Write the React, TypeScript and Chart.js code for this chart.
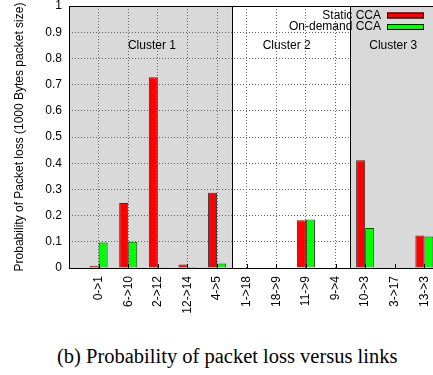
import React, { useEffect, useRef } from "react";
import { Chart, registerables } from "chart.js";

Chart.register(...registerables);

// ---- data ----
const links = ["0->1", "6->10", "2->12", "12->14", "4->5", "1->18", "18->9", "11->9", "9->4", "10->3", "3->17", "13->3"];
const staticCCA = [0.009, 0.248, 0.728, 0.013, 0.287, 0, 0, 0.182, 0, 0.411, 0, 0.124];
const onDemandCCA = [0.097, 0.1, 0.003, 0.004, 0.017, 0, 0, 0.185, 0, 0.153, 0, 0.12];
const yTicks = [0, 0.1, 0.2, 0.3, 0.4, 0.5, 0.6, 0.7, 0.8, 0.9, 1];
const seriesNames = ["Static CCA", "On-demand CCA"];
const clusterNames = ["Cluster 1", "Cluster 2", "Cluster 3"];
const clusterBounds = [-1, 4.5, 8.5, 12];
const clusterShaded = [true, false, true];
const clusterLabelX = [1.8, 6.35, 9.95];
const clusterLabelY = 0.85;
const xMin = -1;
const xMax = 12;

const FONT = "'Liberation Sans', Arial, Helvetica, sans-serif";
const GRAY = "#d9d9d9";
const RED = "#ff0000";
const GREEN = "#00ff00";

const decor = {
  id: "decor",
  beforeDraw(chart: any) {
    const { ctx, chartArea, scales } = chart;
    const x = scales.x;
    ctx.save();
    ctx.fillStyle = "#ffffff";
    ctx.fillRect(0, 0, chart.width, chart.height);
    ctx.fillStyle = GRAY;
    const x0 = x.getPixelForValue(clusterBounds[0]);
    const x1 = x.getPixelForValue(clusterBounds[1]);
    if (clusterShaded[0]) ctx.fillRect(x0, chartArea.top, x1 - x0, chartArea.bottom - chartArea.top);
    ctx.restore();
  },
  beforeDatasetsDraw(chart: any) {
    const { ctx, chartArea, scales } = chart;
    const x = scales.x;
    ctx.save();
    ctx.fillStyle = GRAY;
    for (let i = 1; i < clusterNames.length; i++) {
      if (!clusterShaded[i]) continue;
      const a = x.getPixelForValue(clusterBounds[i]);
      const b = x.getPixelForValue(clusterBounds[i + 1]);
      ctx.fillRect(a, chartArea.top, b - a, chartArea.bottom - chartArea.top);
    }
    ctx.restore();
  },
  afterDatasetsDraw(chart: any) {
    const { ctx, chartArea, scales } = chart;
    const x = scales.x;
    const y = scales.y;
    const { left, right, top, bottom } = chartArea;
    ctx.save();
    ctx.strokeStyle = "#000";
    ctx.lineWidth = 1;
    ctx.beginPath();
    ctx.moveTo(Math.round(left) + 0.5, bottom);
    ctx.lineTo(Math.round(left) + 0.5, Math.round(top) + 0.5);
    ctx.lineTo(right, Math.round(top) + 0.5);
    ctx.moveTo(left, Math.round(bottom) + 0.5);
    ctx.lineTo(right, Math.round(bottom) + 0.5);
    for (let i = 1; i < clusterBounds.length - 1; i++) {
      const px = Math.round(x.getPixelForValue(clusterBounds[i])) + 0.5;
      ctx.moveTo(px, top);
      ctx.lineTo(px, bottom);
    }
    for (let i = 0; i < links.length; i++) {
      const px = Math.round(x.getPixelForValue(i)) + 0.5;
      ctx.moveTo(px, bottom);
      ctx.lineTo(px, bottom - 4);
    }
    ctx.stroke();

    ctx.fillStyle = "#000";
    ctx.font = `12px ${FONT}`;
    ctx.textAlign = "center";
    ctx.textBaseline = "middle";
    clusterNames.forEach((n, i) => {
      ctx.fillText(n, x.getPixelForValue(clusterLabelX[i]), y.getPixelForValue(clusterLabelY));
    });

    const colors = [RED, GREEN];
    ctx.textAlign = "right";
    seriesNames.forEach((n, i) => {
      const cy = top + 9.5 + i * 11.5;
      ctx.fillStyle = "#000";
      ctx.fillText(n, 381, cy);
      ctx.fillStyle = colors[i];
      ctx.fillRect(387, cy - 3, 37, 6);
      ctx.strokeStyle = "#000";
      ctx.strokeRect(387.5, cy - 2.5, 36, 5);
    });
    ctx.restore();
  },
};

export default function App() {
  const ref = useRef<HTMLCanvasElement | null>(null);

  useEffect(() => {
    if (!ref.current) return;
    const chart = new Chart(ref.current, {
      type: "bar",
      data: {
        datasets: [
          {
            label: seriesNames[0],
            data: staticCCA.map((v, i) => ({ x: i, y: v })),
            backgroundColor: RED,
            borderColor: "#333",
            borderWidth: 1,
            categoryPercentage: 0.61,
            barPercentage: 1,
          },
          {
            label: seriesNames[1],
            data: onDemandCCA.map((v, i) => ({ x: i, y: v })),
            backgroundColor: GREEN,
            borderColor: "#333",
            borderWidth: 1,
            categoryPercentage: 0.61,
            barPercentage: 1,
          },
        ] as any,
      },
      options: {
        animation: false,
        responsive: false,
        devicePixelRatio: 1,
        layout: { padding: { top: 6, right: 6, left: 0, bottom: 0 } },
        plugins: {
          legend: { display: false },
          tooltip: { enabled: false },
        },
        scales: {
          x: {
            type: "linear",
            offset: false,
            min: xMin,
            max: xMax,
            afterBuildTicks: (s: any) => {
              s.ticks = links.map((_, i) => ({ value: i }));
            },
            afterFit: (s: any) => {
              s.height = 62;
              s.paddingLeft = 0;
              s.paddingRight = 0;
            },
            ticks: {
              autoSkip: false,
              maxRotation: 90,
              minRotation: 90,
              padding: 8,
              color: "#000",
              font: { family: FONT, size: 12 },
              callback: (v: any) => links[v] ?? "",
            },
            grid: {
              color: "#666",
              drawTicks: false,
              lineWidth: 1,
              offset: false,
            },
            border: { display: false, dash: [1, 2] },
          },
          y: {
            type: "linear",
            min: 0,
            max: 1,
            afterBuildTicks: (s: any) => {
              s.ticks = yTicks.map((v) => ({ value: v }));
            },
            afterFit: (s: any) => {
              s.width = 69;
              s.paddingTop = 0;
              s.paddingBottom = 0;
            },
            ticks: {
              padding: 7,
              color: "#000",
              font: { family: FONT, size: 12 },
              callback: (v: any) => String(Math.round(v * 10) / 10),
            },
            grid: {
              color: "#666",
              drawTicks: false,
              lineWidth: 1,
            },
            border: { display: false, dash: [1, 2] },
            title: {
              display: true,
              text: "Probability of Packet loss (1000 Bytes packet size)",
              color: "#000",
              font: { family: FONT, size: 12 },
              padding: { top: 12, bottom: 0 },
            },
          },
        },
      },
      plugins: [decor],
    } as any);
    return () => chart.destroy();
  }, []);

  return (
    <div
      style={{
        position: "absolute",
        left: 0,
        top: 0,
        width: 433,
        height: 375,
        overflow: "hidden",
        background: "#fff",
      }}
    >
      <canvas ref={ref} width={460} height={330} style={{ width: 460, height: 330, display: "block" }} />
      <div
        style={{
          position: "absolute",
          left: 57,
          top: 344,
          fontFamily: "'Liberation Serif', 'Times New Roman', serif",
          fontSize: 20.5,
          lineHeight: "24px",
          color: "#000",
          whiteSpace: "nowrap",
        }}
      >
        (b) Probability of packet loss versus links
      </div>
    </div>
  );
}
